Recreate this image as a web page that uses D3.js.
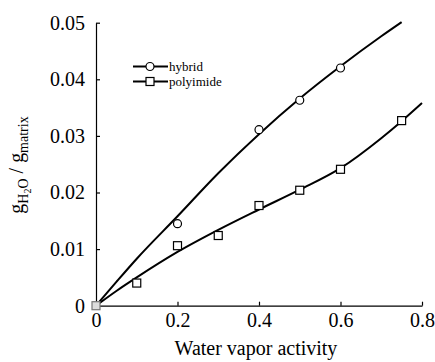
<!DOCTYPE html>
<html>
<head>
<meta charset="utf-8">
<script src="https://cdn.jsdelivr.net/npm/d3@7"></script>
<style>
  body { margin: 0; background: #fff; }
</style>
</head>
<body>
<figure id="chart" style="margin:0"></figure>
<script>
// measured points
var activityHybrid = [0.2, 0.4, 0.5, 0.6];
var uptakeHybrid = [0.0145, 0.0311, 0.0363, 0.0420];

var activityPoly = [0, 0.1, 0.2, 0.3, 0.4, 0.5, 0.6, 0.75];
var uptakePoly = [0, 0.0040, 0.0106, 0.0124, 0.0177, 0.0204, 0.0241, 0.0327];

// fitted curves
var fitHybridX = [0, 0.05, 0.1, 0.2, 0.3, 0.4, 0.5, 0.6, 0.7, 0.75];
var fitHybridY = [0, 0.0042, 0.0083, 0.0158, 0.0234, 0.0303, 0.0366, 0.0423, 0.0476, 0.0501];

var fitPolyX = [0, 0.05, 0.1, 0.2, 0.3, 0.4, 0.5, 0.6, 0.7, 0.75, 0.8];
var fitPolyY = [0, 0.0026, 0.0050, 0.0095, 0.0134, 0.0170, 0.0205, 0.0243, 0.0296, 0.0326, 0.0358];

var xTicks = [0, 0.2, 0.4, 0.6, 0.8];
var yTicks = [0, 0.01, 0.02, 0.03, 0.04, 0.05];

var fontFamily = "Liberation Serif, DejaVu Serif, serif";

var dimensions = {
    width: 435,
    height: 362,
    margin: { top: 22.7, right: 13, bottom: 56.3, left: 96 }
};
dimensions.boundedWidth = dimensions.width - dimensions.margin.left - dimensions.margin.right;
dimensions.boundedHeight = dimensions.height - dimensions.margin.top - dimensions.margin.bottom;

var svg = d3.select("figure#chart")
    .append("svg")
    .attr("width", dimensions.width)
    .attr("height", dimensions.height)
    .attr("font-family", fontFamily);

var g = svg.append("g")
    .attr("transform", `translate(${dimensions.margin.left}, ${dimensions.margin.top})`);

var xScale = d3.scaleLinear()
    .domain([0, 0.8])
    .range([0, dimensions.boundedWidth]);

var yScale = d3.scaleLinear()
    .domain([0, 0.05])
    .range([dimensions.boundedHeight, 0]);

// axes, ticks pointing inward
var xAxis = g.append("g")
    .attr("transform", `translate(0, ${dimensions.boundedHeight})`)
    .call(d3.axisBottom(xScale)
        .tickValues(xTicks)
        .tickSize(-4)
        .tickSizeOuter(0)
        .tickFormat(d => d === 0 ? "0" : d3.format(".1f")(d)));

xAxis.attr("font-family", fontFamily).attr("font-size", 20);
xAxis.selectAll("text")
    .attr("y", 7)
    .attr("dy", "0.71em");

var yAxis = g.append("g")
    .call(d3.axisLeft(yScale)
        .tickValues(yTicks)
        .tickSize(-4)
        .tickSizeOuter(0)
        .tickFormat(d => d === 0 ? "0" : d3.format(".2f")(d)));

yAxis.attr("font-family", fontFamily).attr("font-size", 20);
yAxis.selectAll("text")
    .attr("x", -11);

g.selectAll(".domain").attr("stroke", "#000").attr("stroke-width", 1.2);
g.selectAll(".tick line").attr("stroke", "#000").attr("stroke-width", 1.2);

// fitted lines
var line = d3.line()
    .x(d => xScale(d[0]))
    .y(d => yScale(d[1]))
    .curve(d3.curveMonotoneX);

g.append("path")
    .datum(d3.zip(fitHybridX, fitHybridY))
    .attr("d", line)
    .attr("fill", "none")
    .attr("stroke", "#000")
    .attr("stroke-width", 2);

g.append("path")
    .datum(d3.zip(fitPolyX, fitPolyY))
    .attr("d", line)
    .attr("fill", "none")
    .attr("stroke", "#000")
    .attr("stroke-width", 2);

// markers
g.selectAll("circle.hybrid")
    .data(d3.zip(activityHybrid, uptakeHybrid))
    .enter()
    .append("circle")
    .attr("class", "hybrid")
    .attr("cx", d => xScale(d[0]))
    .attr("cy", d => yScale(d[1]))
    .attr("r", 4)
    .attr("fill", "#fff")
    .attr("stroke", "#000")
    .attr("stroke-width", 1.2);

g.selectAll("rect.poly")
    .data(d3.zip(activityPoly, uptakePoly))
    .enter()
    .append("rect")
    .attr("class", "poly")
    .attr("x", d => xScale(d[0]) - 4)
    .attr("y", d => yScale(d[1]) - 4)
    .attr("width", 8)
    .attr("height", 8)
    .attr("fill", d => d[0] === 0 ? "#ddd" : "#fff")
    .attr("stroke", d => d[0] === 0 ? "#777" : "#000")
    .attr("stroke-width", 1.2);

// legend
var legend = svg.append("g")
    .attr("font-size", 13);
var legendItems = ["hybrid", "polyimide"];
legendItems.forEach(function(name, i) {
    var y = 66.5 + i * 15;
    legend.append("line")
        .attr("x1", 133).attr("x2", 168)
        .attr("y1", y).attr("y2", y)
        .attr("stroke", "#000").attr("stroke-width", 2);
    if (i === 0) {
        legend.append("circle")
            .attr("cx", 150).attr("cy", y).attr("r", 4)
            .attr("fill", "#fff").attr("stroke", "#000").attr("stroke-width", 1.2);
    } else {
        legend.append("rect")
            .attr("x", 146).attr("y", y - 4).attr("width", 8).attr("height", 8)
            .attr("fill", "#fff").attr("stroke", "#000").attr("stroke-width", 1.2);
    }
    legend.append("text")
        .attr("x", 169)
        .attr("y", y + 4.5)
        .text(name);
});

// axis titles
svg.append("text")
    .attr("x", dimensions.margin.left + xScale(0.4) - 3)
    .attr("y", 355)
    .attr("text-anchor", "middle")
    .attr("font-size", 20)
    .text("Water vapor activity");

var yTitle = svg.append("text")
    .attr("transform", "translate(23, 165) rotate(-90)")
    .attr("text-anchor", "middle")
    .attr("font-size", 20);
yTitle.append("tspan").text("g");
yTitle.append("tspan").attr("dy", 5).attr("font-size", 14).text("H");
yTitle.append("tspan").attr("dy", 3).attr("font-size", 10).text("2");
yTitle.append("tspan").attr("dy", -3).attr("font-size", 14).text("O");
yTitle.append("tspan").attr("dy", -5).text(" / g");
yTitle.append("tspan").attr("dy", 5).attr("font-size", 14).text("matrix");
</script>
</body>
</html>
